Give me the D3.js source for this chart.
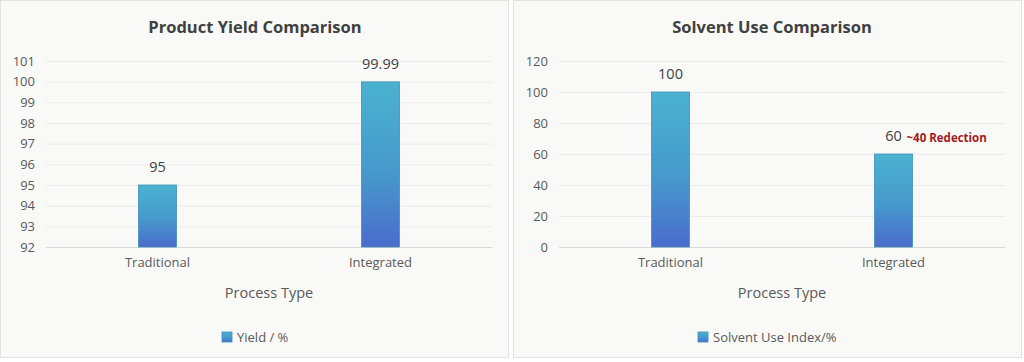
<!DOCTYPE html>
<html><head><meta charset="utf-8">
<script src="https://cdn.jsdelivr.net/npm/d3@7"></script>
<style>
html,body{margin:0;padding:0;background:#fff;}
svg{display:block;font-family:"Open Sans",sans-serif;}
</style></head>
<body><svg id="c" width="1024" height="362"></svg>
<script>
const categories = ["Traditional", "Integrated"];
const yieldValues = [95, 99.99];
const yieldLabels = ["95", "99.99"];
const yieldTicks = [92, 93, 94, 95, 96, 97, 98, 99, 100, 101];
const solventValues = [100, 60];
const solventLabels = ["100", "60"];
const solventTicks = [0, 20, 40, 60, 80, 100, 120];
const annotation = "~40 Redection";

const svg = d3.select("#c");
const defs = svg.append("defs");
const grad = defs.append("linearGradient").attr("id","barGrad").attr("x1",0).attr("y1",0).attr("x2",0).attr("y2",1);
grad.append("stop").attr("offset","0%").attr("stop-color","#4bb2d0");
grad.append("stop").attr("offset","55%").attr("stop-color","#4699cc");
grad.append("stop").attr("offset","100%").attr("stop-color","#4a6ccc");

function panel(ox, cfg){
  const g = svg.append("g").attr("transform",`translate(${ox},0)`);
  g.append("rect").attr("x",0.5).attr("y",0.5).attr("width",508).attr("height",357)
    .attr("fill","#f9f9f8").attr("stroke","#e2e2e2");
  g.append("text").attr("x",cfg.titleX).attr("y",33).attr("text-anchor","middle")
    .attr("font-size",16.5).attr("font-weight",700).attr("fill","#404040").text(cfg.title);
  const x = d3.scaleBand().domain(categories).range([46,492]);
  const y = d3.scaleLinear().domain(cfg.domain).range([247,61]);
  g.append("g").selectAll("line").data(cfg.ticks).join("line")
    .attr("x1",46).attr("x2",492).attr("y1",d=>y(d)+0.5).attr("y2",d=>y(d)+0.5)
    .attr("stroke",d=>d===cfg.domain[0]?"#d9d9d9":"#ebebeb").attr("stroke-width",1);
  const ya = g.append("g").attr("transform","translate(35,0)")
    .call(d3.axisLeft(y).tickValues(cfg.ticks).tickSize(0).tickPadding(0).tickFormat(d3.format("d")));
  ya.select(".domain").remove();
  ya.selectAll("text").attr("font-size",13).attr("fill","#595959").attr("font-family","Open Sans, sans-serif");
  const xa = g.append("g").attr("transform","translate(0,255)")
    .call(d3.axisBottom(x).tickSize(0).tickPadding(0));
  xa.select(".domain").remove();
  xa.selectAll("text").attr("font-size",13).attr("fill","#595959").attr("dy","0.9em").attr("font-family","Open Sans, sans-serif");
  const bw = 38;
  g.append("g").selectAll("rect").data(cfg.values).join("rect")
    .attr("x",(d,i)=>x(categories[i])+x.bandwidth()/2-bw/2)
    .attr("y",d=>y(d)).attr("width",bw).attr("height",d=>y(cfg.domain[0])-y(d))
    .attr("fill","url(#barGrad)").attr("stroke","#3f8fb8").attr("stroke-width",0.8);
  g.append("g").selectAll("text").data(cfg.values).join("text")
    .attr("x",(d,i)=>x(categories[i])+x.bandwidth()/2)
    .attr("y",d=>y(d)-13).attr("text-anchor","middle")
    .attr("font-size",14.5).attr("fill","#404040").text((d,i)=>cfg.labels[i]);
  g.append("text").attr("x",269).attr("y",298).attr("text-anchor","middle")
    .attr("font-size",14.5).attr("fill","#595959").text("Process Type");
  g.append("rect").attr("x",cfg.legX).attr("y",332).attr("width",10).attr("height",10)
    .attr("fill","url(#barGrad)").attr("stroke","#3f8fb8").attr("stroke-width",0.8);
  g.append("text").attr("x",cfg.legX+15).attr("y",342).attr("font-size",13)
    .attr("fill","#595959").text(cfg.legend);
  return {g,x,y};
}

panel(0,{title:"Product Yield Comparison",titleX:255,domain:[92,101],ticks:yieldTicks,
  values:yieldValues,labels:yieldLabels,legend:"Yield / %",legX:222});
const p2 = panel(513,{title:"Solvent Use Comparison",titleX:259,domain:[0,120],ticks:solventTicks,
  values:solventValues,labels:solventLabels,legend:"Solvent Use Index/%",legX:185});
p2.g.append("text").attr("x",p2.x(categories[1])+p2.x.bandwidth()/2+13)
  .attr("y",p2.y(solventValues[1])-12).attr("font-size",11.5).attr("font-weight",700)
  .attr("fill","#a31a1a").text(annotation);
</script></body></html>
